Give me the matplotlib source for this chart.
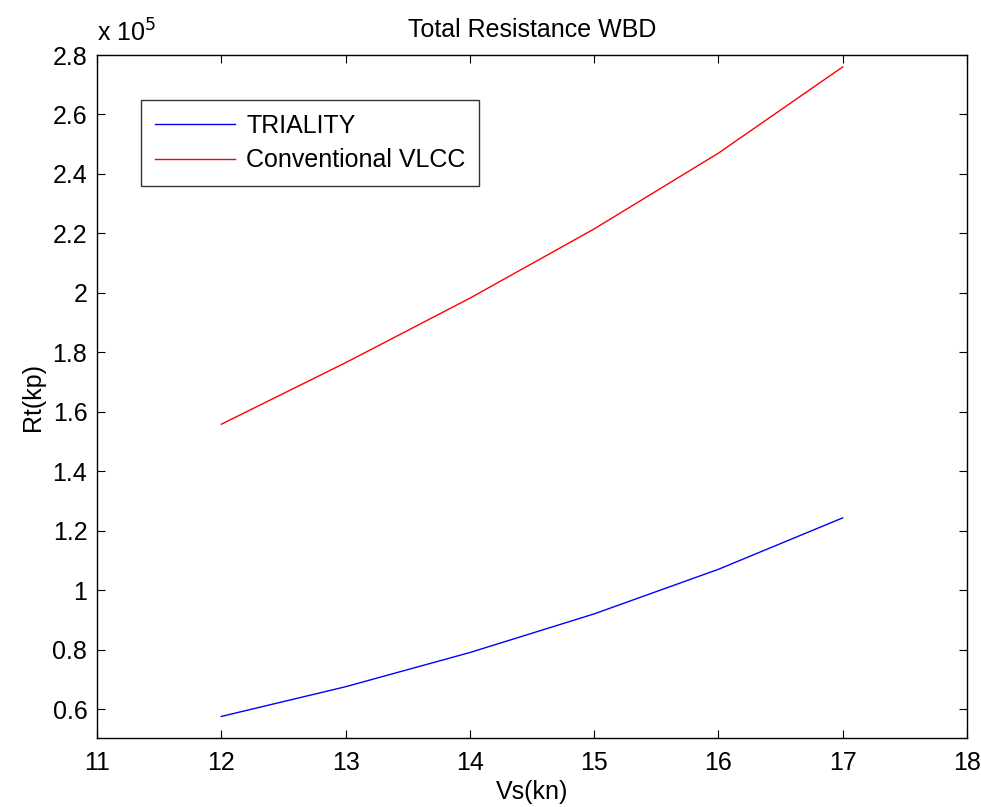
import matplotlib
matplotlib.use('Agg')
import matplotlib.pyplot as plt
from matplotlib.ticker import FuncFormatter, MultipleLocator

plt.rcParams['font.family'] = ['Liberation Sans', 'DejaVu Sans']

speed = [12, 13, 14, 15, 16, 17]
triality = [57500, 67500, 79000, 92000, 107000, 124300]
conventional = [155800, 176500, 198200, 221500, 247000, 276000]

fig = plt.figure(figsize=(9.81, 8.07), dpi=100)
ax = fig.add_axes([0.0989, 0.0855, 0.8868, 0.8463])

ax.plot(speed, triality, color='#0000ff', lw=1.0, label='TRIALITY')
ax.plot(speed, conventional, color='#ff0000', lw=1.0, label='Conventional VLCC')

ax.set_xlim(11, 18)
ax.set_ylim(50250, 280000)
ax.xaxis.set_major_locator(MultipleLocator(1))
ax.set_yticks([v * 1e4 for v in range(6, 29, 2)])
ax.yaxis.set_major_formatter(FuncFormatter(lambda v, p: '%g' % round(v / 1e5, 2)))

ax.tick_params(direction='in', top=True, right=True, length=6, width=0.8,
               labelsize=18, pad=7)
ax.tick_params(axis='x', pad=9)
for s in ax.spines.values():
    s.set_linewidth(1.0)

ax.set_xlabel('Vs(kn)', fontsize=18, labelpad=4)
ax.set_ylabel('Rt(kp)', fontsize=18, labelpad=5)
ax.set_title('Total Resistance WBD', fontsize=18, pad=13)
ax.text(0.0, 1.012, 'x 10$^{5}$', transform=ax.transAxes, fontsize=18,
        ha='left', va='bottom')

leg = ax.legend(loc='upper left', bbox_to_anchor=(0.0506, 0.934), fontsize=18,
                fancybox=False, frameon=True, edgecolor='black',
                handlelength=3.2, handletextpad=0.45, borderpad=0.55,
                labelspacing=0.42, borderaxespad=0)
leg.get_frame().set_linewidth(1.0)

fig.savefig('out.png', dpi=100)
